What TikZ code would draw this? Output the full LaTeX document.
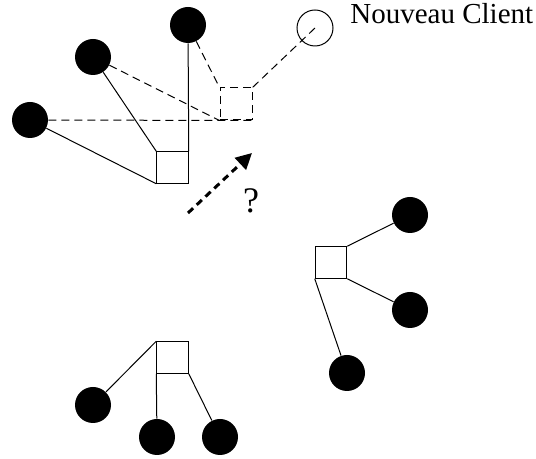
\documentclass[tikz,border=0pt]{standalone}
\usepackage{fontspec}
\setmainfont{Liberation Serif}
\usetikzlibrary{arrows.meta}
\begin{document}
\begin{tikzpicture}[
    x=0.5pt, y=-0.5pt,
    client/.style={circle, fill=black, minimum size=18pt, inner sep=0pt},
    newclient/.style={circle, draw, line width=0.5pt, minimum size=18pt, inner sep=0pt},
    depot/.style={rectangle, draw, line width=0.5pt, minimum size=15.75pt, inner sep=0pt},
    link/.style={line width=0.5pt},
    trial/.style={line width=0.5pt, dash pattern=on 4pt off 2.5pt},
    guess/.style={-{Triangle[length=8pt,width=8pt]}, line width=1.5pt, dash pattern=on 3.5pt off 2.5pt}
]
    \useasboundingbox (0,0) rectangle (536,459);

    % Tournee en haut a gauche
    \node[depot] (d1) at (172.5,167.5) {};
    \node[client] (c1) at (30,120) {};
    \node[client] (c2) at (93,57) {};
    \node[client] (c3) at (188,25) {};
    \draw[link] (c1) -- (d1.south west);
    \draw[link] (c2) -- (d1.north west);
    \draw[link] (c3) -- (d1.north east);

    % Insertion testee (pointilles)
    \node[depot, trial, minimum size=16pt] (d0) at (236,104) {};
    \node[newclient] (nc) at (315,28) {};
    \node[anchor=base west, inner sep=0pt, font=\fontsize{14.5}{17}\selectfont] (ncl) at (350,24) {Nouveau Client};
    \draw[trial] (c1) -- (d0.south east);
    \draw[trial] (c2) -- (d0.south west);
    \draw[trial] (c3) -- (d0.north west);
    \draw[trial] (nc.center) -- (d0.north east);

    % Fleche
    \coordinate (from) at (188,213);
    \coordinate (to) at (252,153);
    \draw[guess] (from) -- (to);
    \node[font=\fontsize{18}{20}\selectfont] (q) at (251,201) {?};

    % Tournee a droite
    \node[depot] (d2) at (331,262.5) {};
    \node[client] (c4) at (410,215) {};
    \node[client] (c5) at (410,310) {};
    \node[client] (c6) at (347,373) {};
    \draw[link] (d2.north east) -- (c4);
    \draw[link] (d2.south east) -- (c5);
    \draw[link] (d2.south west) -- (c6);

    % Tournee en bas
    \node[depot] (d3) at (172.5,357.5) {};
    \node[client] (c7) at (93,405) {};
    \node[client] (c8) at (157,437) {};
    \node[client] (c9) at (220,437) {};
    \draw[link] (d3.north west) -- (c7);
    \draw[link] (d3.south west) -- (c8);
    \draw[link] (d3.south east) -- (c9);
\end{tikzpicture}
\end{document}
